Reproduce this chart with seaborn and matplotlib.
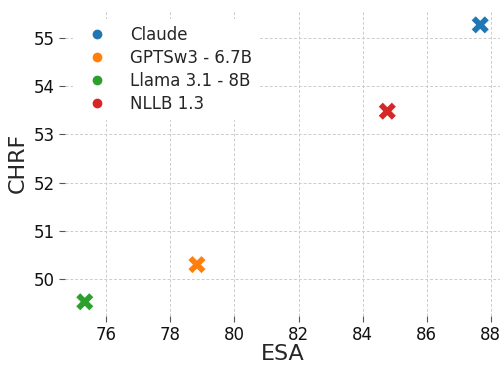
import pandas
import seaborn as sns
import matplotlib.pyplot as plt
from matplotlib.lines import Line2D

models = ["Claude", "GPTSw3 - 6.7B", "Llama 3.1 - 8B", "NLLB 1.3"]
esa = [87.67, 78.83, 75.33, 84.77]
chrf = [55.27, 50.30, 49.53, 53.48]

df = pandas.DataFrame({"model": models, "ESA": esa, "CHRF": chrf})
palette = sns.color_palette("tab10", len(models))

sns.set_style("whitegrid")
plt.rcParams["font.family"] = ["DejaVu Sans"]
fig, ax = plt.subplots(figsize=(5, 3.67), dpi=100)
fig.subplots_adjust(left=0.13, right=1.0, bottom=0.14, top=0.97)

sns.scatterplot(data=df, x="ESA", y="CHRF", hue="model", palette=palette,
                marker="X", s=170, edgecolor="white", linewidth=0.5,
                legend=False, ax=ax)

ax.grid(True, linestyle=(0, (3, 2)), color="#cccccc", linewidth=0.7)
for s in ax.spines.values():
    s.set_visible(False)
ax.tick_params(axis="both", labelsize=12, length=4, width=0.8,
               color="#555555", left=True, bottom=True, labelcolor="#111111")
ax.set_xticks([76, 78, 80, 82, 84, 86, 88])
ax.set_xlabel("ESA", fontsize=16, labelpad=0)
ax.set_ylabel("CHRF", fontsize=16, labelpad=4)

handles = [Line2D([], [], marker="o", linestyle="", color=c, markersize=6)
           for c in palette]
leg = ax.legend(handles, models, loc="upper left", fontsize=12,
                frameon=True, facecolor="white", edgecolor="none",
                framealpha=1, handletextpad=1.0, labelspacing=0.3,
                bbox_to_anchor=(0.0, 1.0))

fig.savefig("out.png", dpi=100)
